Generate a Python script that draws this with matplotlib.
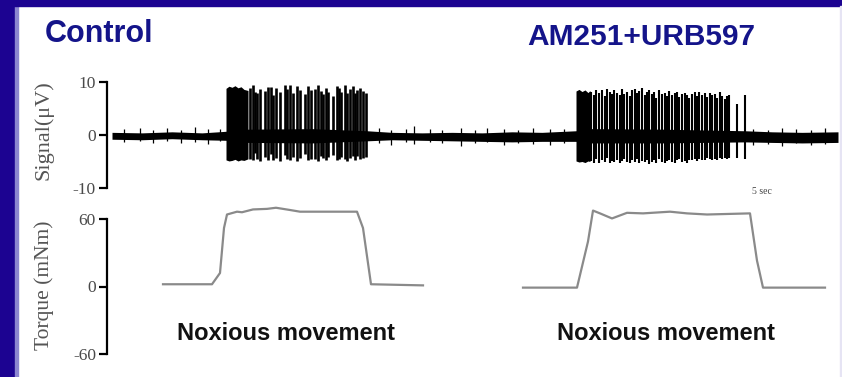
import matplotlib.pyplot as plt
from matplotlib.patches import Rectangle

# time axis in arbitrary units (trace runs 0 .. 72.6)
# baseline envelope of the nerve signal
base_t = [0, 3, 6, 9, 11.4, 13.6, 20, 25.5, 28, 31, 34, 37, 40, 43, 46.4, 47.8, 55, 63.3, 66, 69, 72.6]
base_hi = [0.5, 0.4, 0.6, 0.4, 0.7, 1.1, 1.2, 0.8, 0.5, 0.4, 0.5, 0.4, 0.6, 0.5, 0.8, 1.2, 1.1, 0.8, 0.6, 0.5, 0.6]
base_lo = [-0.8, -0.9, -0.7, -0.9, -1.0, -1.4, -1.5, -1.1, -0.9, -1.0, -1.1, -1.2, -1.3, -1.2, -1.2, -1.5, -1.5, -1.3, -1.4, -1.5, -1.4]

# small noise blips on the baseline
noise_t = [1.2, 2.8, 4.1, 5.5, 6.9, 8.3, 9.6, 10.8, 26.7, 27.9, 29.4, 30.2, 31.8, 33.0,
           34.9, 36.3, 37.5, 39.2, 40.6, 42.1, 43.8, 45.2, 64.1, 65.6, 67.0, 68.4, 69.9, 71.3]
noise_hi = [1.1, 1.4, 0.9, 1.3, 1.0, 1.5, 1.1, 1.2, 1.4, 1.0, 1.2, 1.7, 1.1, 0.9,
            1.3, 1.0, 1.4, 1.1, 1.0, 1.3, 1.1, 1.2, 1.2, 1.0, 1.4, 1.1, 0.9, 1.3]
noise_lo = [-1.4, -1.1, -1.6, -1.2, -1.5, -1.3, -1.7, -1.2, -1.6, -1.8, -1.4, -1.7, -1.3, -1.5,
            -2.0, -1.6, -1.4, -1.8, -1.5, -1.7, -1.9, -1.6, -1.8, -1.7, -2.0, -1.6, -1.9, -1.7]

# dense onset of each burst
ctrl_block_t = [11.4, 11.7, 12.0, 12.3, 12.6, 12.9, 13.2, 13.6]
ctrl_block_hi = [8.8, 9.2, 9.0, 9.3, 8.9, 9.1, 8.6, 8.4]
ctrl_block_lo = [-4.7, -4.9, -4.8, -4.6, -4.9, -4.7, -4.8, -4.5]
am_block_t = [46.4, 46.7, 47.0, 47.3, 47.6, 47.8]
am_block_hi = [8.3, 8.6, 8.2, 8.5, 8.0, 8.4]
am_block_lo = [-4.9, -5.1, -5.0, -5.2, -4.9, -5.0]

# individual spikes, control
ctrl_spike_t = [13.8, 14.1, 14.3, 14.5, 14.8, 15.3, 15.6, 15.9, 16.1, 16.4,
                16.8, 17.3, 17.5, 17.8, 18.1, 18.5, 18.8, 19.3, 19.6, 19.9,
                20.3, 20.6, 20.9, 21.1, 21.4, 21.6, 22.1, 22.5, 22.7, 22.9,
                23.3, 23.5, 23.8, 24.1, 24.3, 24.5, 24.8, 25.1, 25.4]
ctrl_spike_top = [8.9, 9.4, 8.2, 7.9, 8.6, 8.3, 9.0, 9.1, 7.6, 8.8,
                  8.1, 9.5, 8.7, 9.4, 8.0, 9.3, 8.5, 7.8, 9.2, 8.4,
                  8.6, 9.5, 8.3, 7.7, 8.9, 8.1, 7.4, 9.3, 8.8, 8.2,
                  9.4, 8.0, 8.6, 9.2, 7.9, 8.5, 8.9, 8.3, 8.0]
ctrl_spike_bot = [-4.6, -4.8, -3.4, -4.5, -4.9, -4.2, -4.7, -3.6, -4.8, -4.4,
                  -4.9, -3.8, -4.6, -4.7, -4.1, -4.9, -4.3, -3.5, -4.8, -4.5,
                  -4.6, -4.9, -3.9, -4.4, -4.7, -4.2, -3.7, -4.8, -4.5, -4.1,
                  -4.6, -4.9, -4.3, -4.0, -4.7, -3.9, -4.5, -4.4, -4.2]

# individual spikes, AM251+URB597
am_spike_t = [47.9, 48.2, 48.4, 48.7, 49.0, 49.3, 49.5, 49.8, 50.0, 50.2,
              50.5, 50.8, 51.0, 51.2, 51.5, 51.8, 52.0, 52.3, 52.5, 52.7,
              53.0, 53.3, 53.5, 53.7, 54.0, 54.2, 54.4, 54.7, 55.0, 55.3,
              55.5, 55.7, 56.0, 56.3, 56.5, 56.7, 57.0, 57.3, 57.5, 57.7,
              58.0, 58.3, 58.5, 58.7, 59.0, 59.3, 59.5, 59.8, 60.0, 60.3,
              60.5, 60.8, 61.0, 61.3, 61.5, 61.7, 62.5, 63.3]
am_spike_top = [8.2, 7.6, 8.4, 7.9, 8.5, 7.3, 8.6, 8.1, 7.7, 8.4,
                8.0, 7.5, 8.6, 7.8, 8.2, 7.4, 8.5, 8.7, 7.9, 8.3,
                8.8, 7.6, 8.1, 8.4, 7.7, 8.2, 7.0, 8.5, 7.8, 8.0,
                7.4, 8.3, 7.6, 7.9, 8.2, 7.1, 7.7, 8.0, 7.5, 6.9,
                7.8, 8.1, 7.3, 8.2, 7.6, 7.9, 7.2, 8.0, 7.5, 7.8,
                7.0, 8.1, 7.4, 6.8, 7.3, 7.6, 5.9, 7.6]
am_spike_bot = [-4.9, -5.2, -4.6, -5.3, -4.8, -5.1, -4.4, -5.2, -4.9, -5.0,
                -4.7, -5.3, -4.9, -4.5, -5.1, -5.2, -4.8, -5.0, -4.6, -5.3,
                -4.9, -5.1, -4.7, -5.4, -5.0, -4.8, -5.2, -4.6, -5.0, -5.3,
                -4.9, -4.7, -5.1, -5.2, -4.8, -4.5, -5.0, -4.9, -5.2, -4.7,
                -4.8, -4.6, -4.9, -4.5, -4.8, -4.7, -4.4, -4.6, -4.8, -4.5,
                -4.7, -4.4, -4.6, -4.3, -4.5, -4.4, -4.3, -4.5]

# torque traces
ctrl_torque_t = [5.1, 10.0, 10.8, 11.2, 11.5, 12.5, 13.0, 14.1, 15.5, 16.4, 17.8, 18.8, 24.5, 25.1, 25.9, 31.1]
ctrl_torque = [2, 2, 12, 52, 64, 66.5, 66, 68.5, 69, 70, 68, 66.5, 66.5, 52, 2, 1]
am_torque_t = [41.1, 46.5, 47.6, 48.1, 48.8, 50.0, 51.5, 53.1, 55.8, 57.5, 59.5, 63.8, 64.5, 65.1, 71.3]
am_torque = [-1, -1, 40, 67.5, 65, 60.5, 65.5, 65, 66.5, 65, 64, 65, 23, -1, -1]

W, H = 842, 377
fig = plt.figure(figsize=(W / 100, H / 100), dpi=100, facecolor='white')


def fx(px):
    return px / W


def fy(py):
    return 1 - py / H


# slide frame
navy = '#1c0391'
fig.patches.append(Rectangle((0, 0), fx(15), 1, transform=fig.transFigure, color=navy, zorder=0))
fig.patches.append(Rectangle((fx(15), 0), fx(3), 1, transform=fig.transFigure, color='#8c86d0', zorder=0))
fig.patches.append(Rectangle((0, fy(6)), 1, fy(0) - fy(6), transform=fig.transFigure, color=navy, zorder=0))
fig.patches.append(Rectangle((fx(840), 0), fx(2), fy(6), transform=fig.transFigure, color='#e6e4f4', zorder=0))

serif = ['Liberation Serif', 'DejaVu Serif']
label_col = '#555555'

# signal panel
ax1 = fig.add_axes([fx(107), fy(188), fx(840) - fx(107), fy(82) - fy(188)])
ax1.fill_between(base_t, base_lo, base_hi, color='black', lw=0)
ax1.vlines(noise_t, noise_lo, noise_hi, color='black', lw=0.9)
ax1.fill_between(ctrl_block_t, ctrl_block_lo, ctrl_block_hi, color='black', lw=0)
ax1.fill_between(am_block_t, am_block_lo, am_block_hi, color='black', lw=0)
ax1.vlines(ctrl_spike_t, ctrl_spike_bot, ctrl_spike_top, color='black', lw=1.9)
ax1.vlines(am_spike_t, am_spike_bot, am_spike_top, color='black', lw=1.5)
ax1.set_xlim(-0.5, 72.8)
ax1.set_ylim(-10, 10)
ax1.set_yticks([10, 0, -10])
ax1.set_yticklabels(['10', '0', '-10'])

# torque panel
ax2 = fig.add_axes([fx(107), fy(354), fx(840) - fx(107), fy(219) - fy(354)])
ax2.plot(ctrl_torque_t, ctrl_torque, color='#8a8a8a', lw=1.6, clip_on=False)
ax2.plot(am_torque_t, am_torque, color='#8a8a8a', lw=1.6, clip_on=False)
ax2.set_xlim(-0.5, 72.8)
ax2.set_ylim(-60, 60)
ax2.set_yticks([60, 0, -60])
ax2.set_yticklabels(['60', '0', '-60'])

for ax in (ax1, ax2):
    ax.patch.set_alpha(0)
    for s in ('top', 'right', 'bottom'):
        ax.spines[s].set_visible(False)
    ax.spines['left'].set_linewidth(1.6)
    ax.set_xticks([])
    ax.tick_params(axis='y', length=6, width=1.6, pad=2, labelsize=12.5, labelcolor='#4a4a4a')
    for lab in ax.get_yticklabels():
        lab.set_family(serif)

# axis titles
fig.text(fx(44), fy(130), 'Signal(μV)', rotation=90, family=serif, fontsize=16,
         color=label_col, ha='center', va='center')
fig.text(fx(44), fy(285), 'Torque (mNm)', rotation=90, family=serif, fontsize=15.5,
         color=label_col, ha='center', va='center')

# titles and labels
title_col = '#14148a'
fig.text(fx(45), fy(34), 'Control', fontsize=22, fontweight='bold', color=title_col,
         family='Liberation Sans', va='center', ha='left')
fig.text(fx(527), fy(37), 'AM251+URB597', fontsize=21.5, fontweight='bold', color=title_col,
         family='Liberation Sans', va='center', ha='left')
fig.text(fx(286), fy(334), 'Noxious movement', fontsize=17, fontweight='bold', color='#111111',
         family='Liberation Sans', va='center', ha='center')
fig.text(fx(666), fy(334), 'Noxious movement', fontsize=17, fontweight='bold', color='#111111',
         family='Liberation Sans', va='center', ha='center')
fig.text(fx(762), fy(192), '5 sec', fontsize=7, color='#444444', family=serif,
         va='center', ha='center')

fig.savefig('out.png', dpi=100, facecolor='white')
